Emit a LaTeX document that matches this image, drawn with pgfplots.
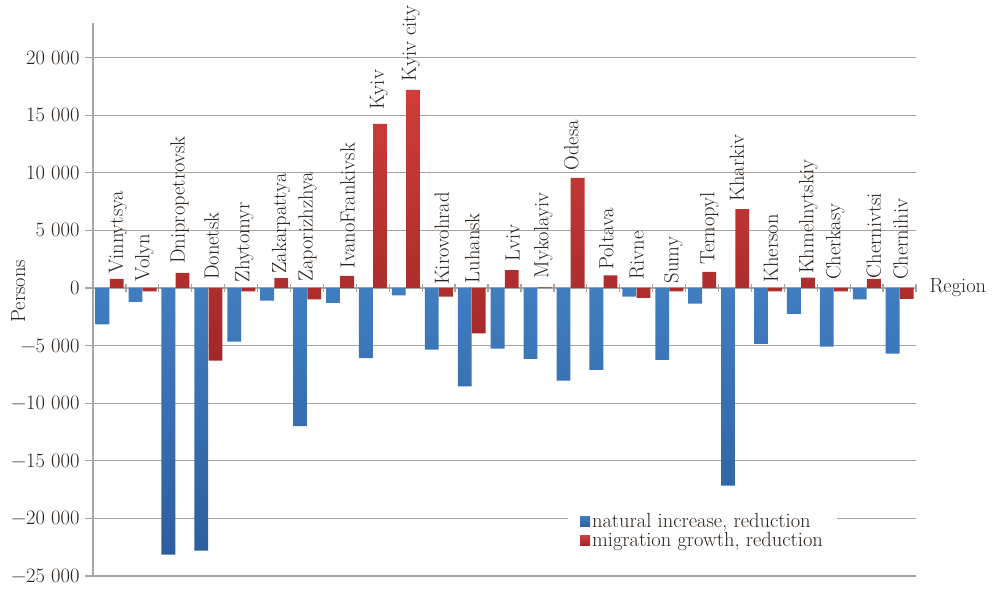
\documentclass[border=0pt]{standalone}
\usepackage{pgfplots}
\pgfplotsset{compat=1.18}
\usepackage{pgfplotstable}
\definecolor{blueT}{RGB}{64,126,192}
\definecolor{blueB}{RGB}{44,94,158}
\definecolor{redT}{RGB}{208,60,58}
\definecolor{redB}{RGB}{162,40,40}
\definecolor{gridc}{RGB}{168,163,158}
\definecolor{txt}{RGB}{42,34,28}
\pgfplotstableread[col sep=comma]{
x,nat,mig,lx,ly,lab
0,-3150,800,0.26,1215,Vinnytsya
1,-1200,-300,0.06,550,Volyn
2,-23150,1300,0.13,2080,Dnipropetrovsk
3,-22800,-6300,0.10,690,Donetsk
4,-4650,-300,0.10,460,Zhytomyr
5,-1100,850,0.21,1215,Zakarpattya
6,-12000,-1000,0.02,550,Zaporizhzhya
7,-1300,1050,0.23,1710,IvanoFrankivsk
8,-6100,14250,0.19,15450,Kyiv
9,-650,17200,0.16,17900,Kyiv city
10,-5350,-750,0.10,260,Kirovohrad
11,-8550,-3950,0.02,400,Luhansk
12,-5270,1550,0.25,2280,Lviv
13,-6150,50,0.18,840,Mykolayiv
14,-8050,9550,0.03,10180,Odesa
15,-7100,1100,0.09,1560,Poltava
16,-750,-850,0.02,750,Rivne
17,-6250,-300,0.13,400,Sumy
18,-1350,1400,0.22,2000,Ternopyl
19,-17150,6850,0.06,7490,Kharkiv
20,-4850,-300,0.09,460,Kherson
21,-2250,900,0.23,1215,Khmelnytskiy
22,-5100,-300,0.05,690,Cherkasy
23,-1000,800,0.22,840,Chernivtsi
24,-5700,-950,0.03,690,Chernihiv
}\data
\newcommand{\fs}{\fontsize{20.5}{24}\selectfont}
\begin{document}
\begin{tikzpicture}
\begin{axis}[
  name=ax,
  scale only axis,
  width=823pt, height=553pt,
  xmin=-0.5, xmax=24.5,
  ymin=-25000, ymax=23000,
  scaled y ticks=false,
  axis x line=middle,
  axis y line=left,
  axis line style={-, draw=gridc, line width=1.3pt},
  xtick={-0.5,0.5,...,24.5},
  xticklabels={},
  xtick align=center,
  ytick={-25000,-20000,-15000,-10000,-5000,0,5000,10000,15000,20000},
  yticklabels={−25~000,−20~000,−15~000,−10~000,−5~000,0,5~000,10~000,15~000,20~000},
  ytick align=outside,
  major tick length=8pt,
  tick style={draw=gridc, line width=1.3pt},
  ymajorgrids,
  major grid style={draw=gridc, line width=1.3pt},
  tick label style={font=\fs, text=txt},
  yticklabel style={xshift=-2pt},
  clip=false,
  xlabel={Region},
  ylabel={Persons},
  every axis x label/.style={at={(axis cs:24.5,0)}, anchor=west, xshift=10pt, font=\fs, text=txt},
  every axis y label/.style={at={(axis description cs:-0.091,0.515)}, anchor=center, rotate=90, font=\fs, text=txt},
  legend style={draw=none, fill=white, at={(axis description cs:0.577,0.122)}, anchor=north west,
     inner xsep=12pt, inner ysep=4pt, font=\fs, text=txt, row sep=1pt,
     nodes={inner ysep=1pt, inner xsep=2pt}},
  legend cell align=left,
  legend image code/.code={\path[#1] (0pt,-5pt) rectangle (10pt,5pt);},
]
\addplot[ybar, bar width=0.42, bar shift=-0.21, draw=none, top color=blueT, bottom color=blueB]
  table[x=x, y=nat] {\data};
\addlegendentry{natural increase, reduction}
\addplot[ybar, bar width=0.42, bar shift=0.22, draw=none, top color=redT, bottom color=redB]
  table[x=x, y=mig] {\data};
\addlegendentry{migration growth, reduction\hspace{30pt}}
\addplot[only marks, mark=none, forget plot, point meta=explicit symbolic,
  nodes near coords,
  every node near coord/.append style={rotate=90, anchor=west, inner sep=0pt, font=\fs, text=txt}]
  table[x expr=\thisrow{x}+\thisrow{lx}, y=ly, meta=lab] {\data};
\end{axis}
\path ([shift={(-93pt,-13pt)}]ax.south west) rectangle ([shift={(79pt,23pt)}]ax.north east);
\end{tikzpicture}
\end{document}
